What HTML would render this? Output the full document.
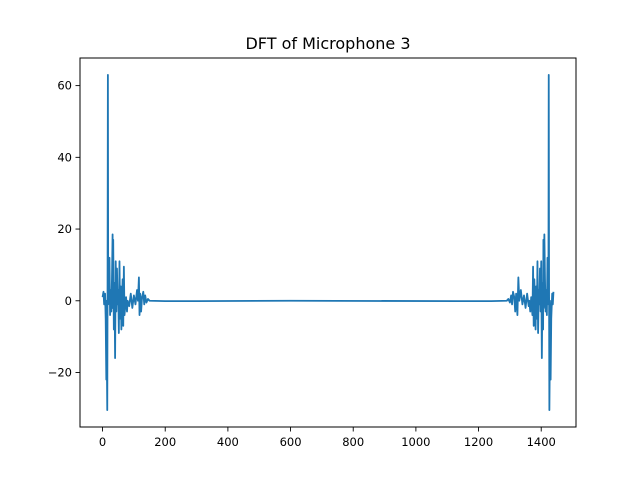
<!DOCTYPE html>
<html><head><meta charset="utf-8"><style>
body{margin:0;background:#fff;}
svg text{font-family:"DejaVu Sans","Liberation Sans",sans-serif;}
</style></head><body>
<svg id="chart" width="640" height="480" viewBox="0 0 640 480">
<rect width="640" height="480" fill="#fff"/>
<text x="328" y="49" font-size="16" text-anchor="middle" fill="#000">DFT of Microphone 3</text>
<g id="plot"></g>
<g id="axes"></g>
</svg>
<script>
const sampleIdx = [0,3,5,8,10,12,13,14,15,16,17,18,20,22,24,26,28,30,32,33,34,36,38,40,42,44,46,48,50,52,54,56,58,60,62,64,66,68,70,72,75,78,80,85,90,95,100,105,110,113,116,118,120,123,126,130,133,136,140,145,150,200,300,600,
 1140,1240,1290,1295,1300,1304,1307,1310,1314,1317,1320,1324,1327,1330,1335,1340,1345,1350,1355,1360,1362,1365,1368,1370,1372,1374,1376,1378,1380,1382,1384,1386,1388,1390,1392,1394,1396,1398,1400,1402,1404,1406,1407,1408,1410,1412,1414,1416,1418,1420,1422,1423,1424,1425,1426,1427,1428,1430,1432,1435,1437,1439];
const sampleVal = [1,2.5,-1,2,-5,-22,0,-20,-30.5,5,63,-1,5,12,-4,3,-3,6,18.5,-2,17,-8,5,-16,11,-3,9,-1,3,-9,11,-5,4,-8,0,6,-7,9.5,-4,-2,1,-3,0,-1.5,2,-2,1.5,-1,3,0,6.5,-4,2,-3,1,2.5,-1,1.5,-0.5,0.5,0,-0.1,-0.1,0,
 -0.1,-0.1,0,0.5,-0.5,1.5,-1,2.5,1,-3,2,-4,6.5,0,3,-1,1.5,-2,2,-1.5,0,-3,1,-2,-4,9.5,-7,6,0,-8,4,-5,11,-9,3,-1,9,-3,11,-16,5,-8,17,-2,18.5,6,-3,3,-4,12,5,-1,63,5,-30.5,-20,0,-22,-5,2,-1,2.5,0.5];
const xTicks = [0,200,400,600,800,1000,1200,1400];
const yTicks = [-20,0,20,40,60];

const L=80,R=576,T=58,B=427, xMin=-72,xMax=1511, yMin=-35.2,yMax=67.7;
const sx=v=>L+(v-xMin)/(xMax-xMin)*(R-L);
const sy=v=>B-(v-yMin)/(yMax-yMin)*(B-T);
const NS='http://www.w3.org/2000/svg';
const plot=document.getElementById('plot'), axes=document.getElementById('axes');
function mk(tag,attrs,parent){const e=document.createElementNS(NS,tag);for(const k in attrs)e.setAttribute(k,attrs[k]);parent.appendChild(e);return e;}

const line=mk('polyline',{points:sampleIdx.map((x,i)=>sx(x).toFixed(2)+','+sy(sampleVal[i]).toFixed(2)).join(' '),fill:'none',stroke:'#1f77b4','stroke-width':1.8,'stroke-linejoin':'round'},plot);



const frame=mk('rect',{x:L,y:T,width:R-L,height:B-T,fill:'none',stroke:'#000','stroke-width':1},axes);



xTicks.forEach(t=>{
  const x=sx(t);
  const tk=mk('line',{x1:x,x2:x,y1:B,y2:B+4.5,stroke:'#000','stroke-width':0.9},axes);
  
  
  const tx=mk('text',{x:x,y:B+19,'font-size':11.5,'text-anchor':'middle',fill:'#000'},axes);
  tx.textContent=t;
  
  
});
yTicks.forEach(t=>{
  const y=sy(t);
  const tk=mk('line',{x1:L-4.5,x2:L,y1:y,y2:y,stroke:'#000','stroke-width':0.9},axes);
  
  
  const tx=mk('text',{x:L-8,y:y+4,'font-size':11.5,'text-anchor':'end',fill:'#000'},axes);
  tx.textContent=(t<0?'\u2212'+(-t):t);
  
  
});
</script>
</body></html>
